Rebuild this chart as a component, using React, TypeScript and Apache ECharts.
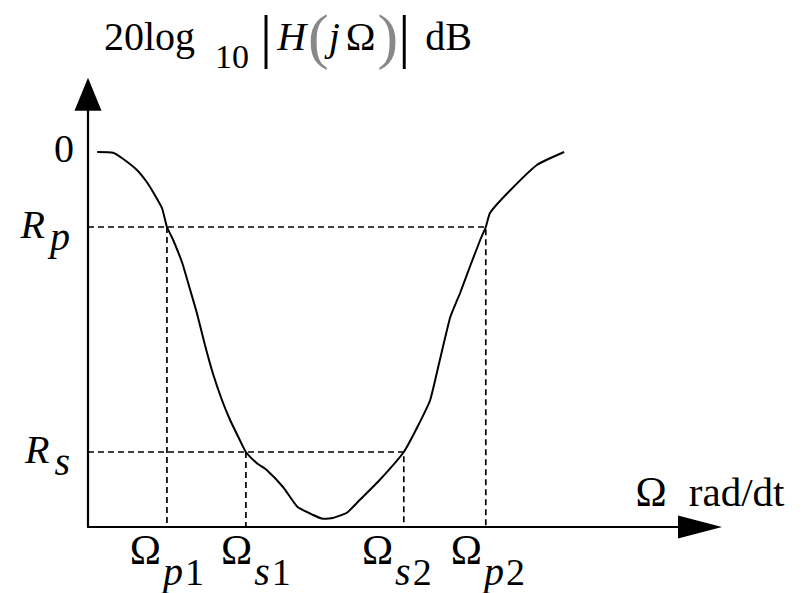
import React, { useEffect, useRef } from 'react';
import * as echarts from 'echarts';

// Band-stop magnitude response, gain in dB against analog frequency
const omega = [1.5, 4.1, 5.7, 8.0, 9.6, 10.6, 12.1, 12.9, 13.9, 15.4, 16.7, 17.8, 19.1, 20.4, 21.9, 23.2, 24.8, 25.8, 27.6, 29.2, 31.9, 34.2, 36.8, 38.4, 40.0, 42.3, 44.4, 47.7, 51.6, 53.8, 55.9, 57.5, 59.2, 60.8, 62.4, 64.1, 65.0, 65.7, 69.0, 73.4, 77.8];
const gainDb = [0, -0.1, -0.9, -2.4, -4.0, -5.3, -7.5, -10, -11.7, -14.8, -18.4, -21.5, -25.7, -29.5, -33.1, -35.7, -38.4, -40, -41.5, -42.4, -44.7, -47.3, -48.4, -48.9, -48.8, -48.1, -46.4, -43.7, -40, -36.7, -33.1, -27.7, -22, -18.8, -15.3, -11.7, -10, -8.1, -5.1, -1.7, 0];

// Band edges: Ωp1, Ωs1, Ωs2, Ωp2
const edgeFreqs = [12.9, 25.8, 51.6, 65.0];
const edgeLetters = ['p', 's', 's', 'p'];
const edgeDigits = ['1', '1', '2', '2'];

// Passband ripple and stopband attenuation levels
const passRippleDb = -10;
const stopAttenDb = -40;
const yTickValues = [0, passRippleDb, stopAttenDb];

const X_MIN = 0;
const X_MAX = 100;
const Y_MIN = -50;
const Y_MAX = 7.7;

const SERIF = 'Liberation Serif';

// per-label rich style keys for the band-edge labels (nudges the glyphs sideways)
const edgeOmegaStyle = ['o', 'oR', 'o', 'oR2'];
const edgeDigitStyle = ['n', 'n', 'nL', 'n'];

function nearestIndex(list: number[], v: number) {
  let best = 0;
  for (let i = 1; i < list.length; i++) {
    if (Math.abs(list[i] - v) < Math.abs(list[best] - v)) best = i;
  }
  return best;
}

function buildOption() {
  const [wp1, ws1, ws2, wp2] = edgeFreqs;
  const guide = (data: number[][]) => ({
    type: 'line',
    data,
    showSymbol: false,
    silent: true,
    lineStyle: { color: '#000', width: 1.7, type: [6, 4] },
    z: 2,
  });
  const t = (extra: object) => ({ fontFamily: SERIF, color: '#000', ...extra });
  const sub = (extra: object) => t({ verticalAlign: 'bottom', ...extra });

  return {
    animation: false,
    backgroundColor: '#fff',
    textStyle: { fontFamily: SERIF },
    title: {
      text: '{m|20log}{s|10}{b||}{h|H}{pl|(}{j|j}{w|Ω}{pr|)}{b2||}{d|dB}',
      left: 104,
      top: -1,
      padding: 0,
      textStyle: {
        fontFamily: SERIF,
        fontWeight: 'normal',
        color: '#000',
        rich: {
          m: t({ fontSize: 40 }),
          s: t({ fontSize: 34, padding: [40, 0, 0, 20] }),
          b: t({ fontSize: 60, padding: [0, 2, 0, 11] }),
          h: t({ fontStyle: 'italic', fontSize: 40, padding: [0, 2, 0, 3] }),
          pl: t({ fontSize: 62, color: '#888', fontWeight: 'lighter' }),
          j: t({ fontStyle: 'italic', fontSize: 40 }),
          w: t({ fontSize: 40, padding: [0, 0, 0, 6] }),
          pr: t({ fontSize: 62, color: '#888', fontWeight: 'lighter', padding: [0, 0, 0, 2] }),
          b2: t({ fontSize: 60 }),
          d: t({ fontSize: 40, padding: [0, 0, 0, 15] }),
        },
      },
    },
    grid: { left: 88, right: 103, top: 94.25, bottom: 66, containLabel: false },
    xAxis: {
      type: 'value',
      min: X_MIN,
      max: X_MAX,
      name: '{o|Ω}{t|rad/dt}',
      nameLocation: 'end',
      nameGap: 10,
      nameTextStyle: {
        fontFamily: SERIF,
        align: 'center',
        verticalAlign: 'bottom',
        padding: [0, 0, 14, 0],
        rich: {
          o: t({ fontSize: 42, padding: [0, 22, 0, 0] }),
          t: t({ fontSize: 41 }),
        },
      },
      axisLine: {
        onZero: false,
        lineStyle: { color: '#000', width: 2.2 },
        symbol: ['none', 'triangle'],
        symbolSize: [23, 44],
      },
      axisTick: { show: false },
      splitLine: { show: false },
      axisLabel: {
        customValues: edgeFreqs,
        margin: 2,
        fontFamily: SERIF,
        formatter: (v: number) => {
          const i = nearestIndex(edgeFreqs, v);
          return `{${edgeOmegaStyle[i]}|Ω}{i|${edgeLetters[i]}}{${edgeDigitStyle[i]}|${edgeDigits[i]}}`;
        },
        rich: {
          o: t({ fontSize: 42, verticalAlign: 'top' }),
          oR: t({ fontSize: 42, verticalAlign: 'top', padding: [0, 0, 0, 20] }),
          oR2: t({ fontSize: 42, verticalAlign: 'top', padding: [0, 0, 0, 4] }),
          i: sub({ fontStyle: 'italic', fontSize: 40, padding: [22, 0, 0, 2] }),
          n: sub({ fontSize: 38, padding: [22, 0, 0, 2] }),
          nL: sub({ fontSize: 38, padding: [22, 14, 0, 2] }),
        },
      },
    },
    yAxis: {
      type: 'value',
      min: Y_MIN,
      max: Y_MAX,
      axisLine: {
        onZero: false,
        lineStyle: { color: '#000', width: 2.2 },
        symbol: ['none', 'triangle'],
        symbolSize: [27, 33],
      },
      axisTick: { show: false },
      splitLine: { show: false },
      axisLabel: {
        customValues: yTickValues,
        margin: 14,
        fontFamily: SERIF,
        formatter: (v: number) => {
          const i = nearestIndex(yTickValues, v);
          if (i === 0) return '{z|0}';
          return `{r|R}{q|${i === 1 ? 'p' : 's'}}`;
        },
        rich: {
          z: t({ fontSize: 40, padding: [0, 0, 8, 0] }),
          r: t({ fontStyle: 'italic', fontSize: 40, padding: [0, 0, 6, 0] }),
          q: t({ fontStyle: 'italic', fontSize: 40, padding: [19, 4, 0, 5] }),
        },
      },
    },
    series: [
      guide([[X_MIN, passRippleDb], [wp2, passRippleDb], [wp2, Y_MIN]]),
      guide([[wp1, passRippleDb], [wp1, Y_MIN]]),
      guide([[X_MIN, stopAttenDb], [ws2, stopAttenDb], [ws2, Y_MIN]]),
      guide([[ws1, stopAttenDb], [ws1, Y_MIN]]),
      {
        type: 'line',
        data: omega.map((w, i) => [w, gainDb[i]]),
        showSymbol: false,
        silent: true,
        smooth: 0.15,
        lineStyle: { color: '#000', width: 2 },
        z: 3,
      },
    ],
  };
}

export default function App() {
  const ref = useRef<HTMLDivElement>(null);
  useEffect(() => {
    const chart = echarts.init(ref.current!, null, { renderer: 'svg' });
    chart.setOption(buildOption() as any);
    return () => chart.dispose();
  }, []);
  return (
    <div
      ref={ref}
      style={{ position: 'fixed', left: 0, top: 0, width: 803, height: 593, background: '#fff' }}
    />
  );
}
